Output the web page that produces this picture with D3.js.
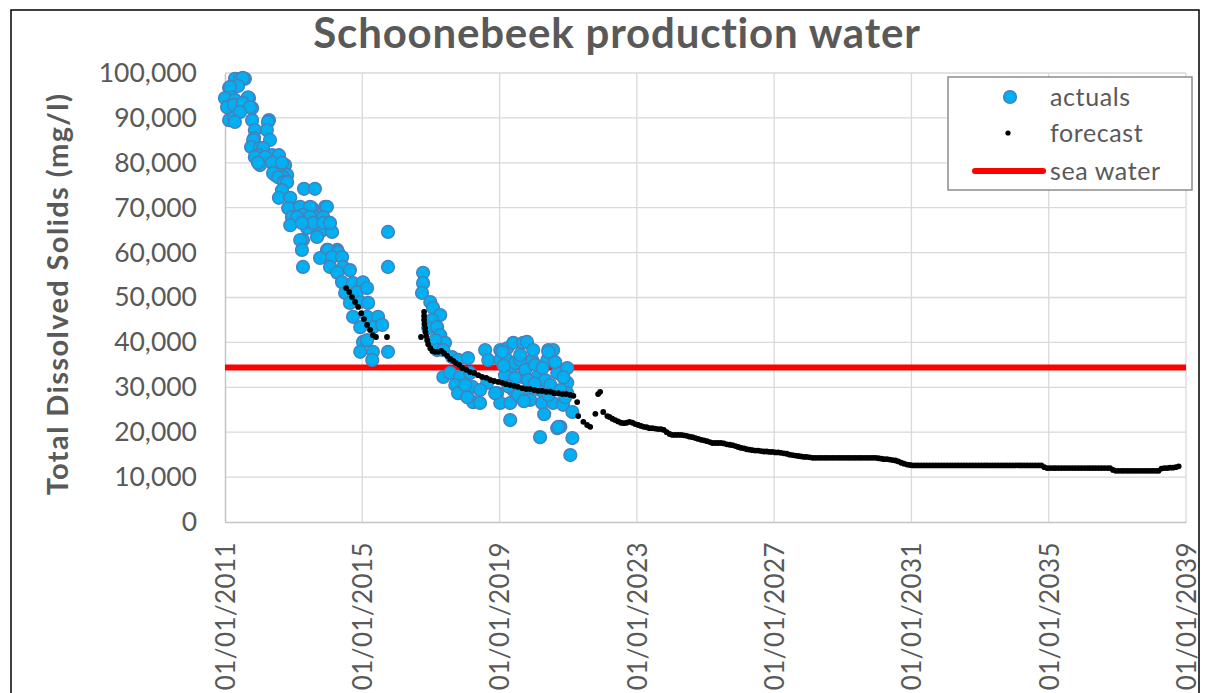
<!DOCTYPE html>
<html lang="en">
<head>
  <meta charset="UTF-8">
  <title>Schoonebeek production water</title>
  <script src="https://d3js.org/d3.v7.min.js"></script>
  <style>
    body { margin: 0; background: #fff; }
    svg { display: block; font-family: Lato, "Open Sans", sans-serif; }
  </style>
</head>
<body>
  <div id="chart"></div>
  <script>
    // measured actuals: [decimal year, TDS mg/l]
    const actuals = [
      [2011.29,98700],[2011.58,98700],[2011.44,98700],[2011.52,98900],[2011.12,96700],[2011.38,97100],[2011.15,96900],
      [2011.20,94600],[2011.00,94400],[2011.29,94000],[2011.70,94400],[2011.67,94600],[2011.06,92400],[2011.26,92900],
      [2011.55,92900],[2011.79,92200],[2011.52,93300],[2011.73,92400],[2011.12,89500],[2011.26,90000],[2011.44,91300],
      [2011.29,89100],[2011.79,89500],[2012.28,89500],[2012.25,89100],[2011.87,87300],[2012.22,87300],[2011.85,85500],
      [2011.82,85100],[2012.31,85100],[2011.76,83500],[2012.02,83300],[2012.11,83300],[2011.99,81700],[2012.37,81700],
      [2011.87,81300],[2012.17,81300],[2012.02,79500],[2012.57,81700],[2012.43,79500],[2012.75,79500],[2011.96,80000],
      [2012.37,80000],[2012.66,80000],[2012.46,77300],[2012.81,77300],[2012.40,77700],[2012.69,76800],[2012.55,76800],
      [2012.72,75700],[2012.81,75700],[2012.66,73900],[2012.57,72200],[2012.90,72200],[2013.30,74200],[2013.62,74200],
      [2012.87,69900],[2013.16,69900],[2013.54,69900],[2012.84,69900],[2013.19,70200],[2013.48,70200],[2013.92,70200],
      [2013.97,70200],[2012.95,67900],[2013.27,68400],[2013.68,67900],[2013.10,67900],[2013.48,67900],[2013.86,67900],
      [2012.90,66100],[2013.39,65500],[2013.77,64600],[2014.12,64600],[2013.57,66600],[2013.86,66600],[2014.06,66600],
      [2013.24,66600],[2013.27,62800],[2013.19,62800],[2013.68,63500],[2013.24,60600],[2013.97,60600],[2014.27,60600],
      [2014.00,60600],[2014.29,60100],[2013.27,56800],[2013.77,58800],[2014.12,59000],[2014.41,59000],[2014.06,56800],
      [2014.44,56800],[2014.27,55500],[2014.64,56100],[2014.41,53400],[2014.73,53200],[2015.02,53400],[2014.50,51000],
      [2014.85,51200],[2015.14,52100],[2014.64,48800],[2014.94,49000],[2015.17,48800],[2014.73,45700],[2015.14,45700],
      [2015.46,45700],[2014.94,43400],[2015.31,43400],[2015.58,43900],[2015.02,40100],[2015.14,40500],[2014.94,37900],
      [2015.31,37900],[2015.75,37900],[2015.29,36100],[2015.75,64600],[2015.75,56800],
      [2016.77,55500],[2016.77,53200],[2016.74,51000],[2016.98,49000],[2017.06,47700],[2017.27,46100],[2017.03,45000],
      [2016.92,43200],[2017.18,43400],[2017.27,41600],[2017.41,39900],[2017.12,40500],[2017.18,38300],[2017.36,38300],
      [2017.62,36700],[2017.79,36100],[2018.08,36500],[2017.36,32300],[2017.56,33200],[2017.85,32300],[2018.14,33200],
      [2017.71,30500],[2017.79,28700],[2018.20,30100],[2018.23,26700],[2018.43,26500],[2018.06,27800],[2018.58,38300],
      [2018.67,36100],[2018.64,31000],[2018.93,28700],[2018.43,29400],[2018.00,30500],
      [2019.02,38300],[2019.02,36100],[2019.22,38700],[2019.22,36100],[2019.31,33900],[2019.40,39900],[2019.45,35400],
      [2019.69,39900],[2019.80,40100],[2019.95,36100],[2019.98,38300],[2019.66,32300],[2019.40,29400],[2019.02,26500],
      [2019.31,26500],[2018.87,28700],[2020.10,32300],[2019.31,22700],[2019.80,28700],[2020.18,29400],[2020.33,31600],
      [2020.42,38300],[2020.56,38300],[2020.39,36100],[2020.68,33200],[2020.24,26500],[2020.56,26500],[2020.85,26100],
      [2020.18,18900],[2020.68,20900],[2020.77,21200],[2020.97,34300],[2020.97,31000],[2021.12,18700],[2021.06,14900],
      [2021.12,24500],[2020.97,28700],[2019.08,37900],[2020.42,37900],[2020.71,21200],[2019.60,36100],[2019.75,33900],
      [2020.04,35000],[2019.16,32700],[2019.45,32100],[2019.83,31600],[2020.48,30500],[2020.77,29400],[2019.54,28300],
      [2019.89,27200],[2020.42,28300],[2020.91,27800],[2019.60,37200],[2019.12,34800],[2020.25,34300],[2020.62,35600],
      [2020.02,30800],[2019.26,30200],[2020.86,32200],[2019.71,26900],[2020.30,24000]
    ];

    // forecast, irregular part: [decimal year, TDS mg/l]
    const forecastEarly = [
      [2014.53,52100],[2014.62,51200],[2014.70,50100],[2014.79,49000],[2014.88,47900],[2014.97,46500],[2015.05,45200],
      [2015.14,43900],[2015.23,42800],[2015.31,41600],[2015.40,41200],[2015.72,41200],
      [2016.71,41200],[2016.80,46800],[2016.80,45900],[2016.80,45000],[2016.81,44100],[2016.83,43200],[2016.84,42300],
      [2016.86,41400],[2016.89,40500],[2016.92,39600],[2016.98,38700],[2017.04,38100],[2017.12,37900],[2017.21,37900],
      [2017.30,38100],[2017.38,37600],[2017.47,37000],[2017.56,36300],[2017.65,35900],[2017.73,35400],[2017.82,35000],
      [2017.91,34300],[2018.03,33900],[2018.14,33400],[2018.26,33200],[2018.38,32700],[2018.49,32300],[2018.61,32100],
      [2018.73,31600],[2018.84,31400],[2018.96,31200],[2019.08,31000],[2019.19,30700],[2019.31,30500],[2019.43,30300],
      [2019.54,30100],[2019.66,29800],[2019.78,29600],[2019.89,29600],[2020.01,29400],[2020.13,29200],[2020.24,29200],
      [2020.36,29000],[2020.48,29000],[2020.59,28700],[2020.71,28700],[2020.83,28500],[2020.94,28500],[2021.06,28300],
      [2021.15,28100],[2021.26,26700],[2021.29,23600],[2021.44,22300],[2021.55,21600],[2021.64,21200],[2021.79,24100],
      [2021.87,28500],[2021.93,29000],[2022.02,24500],[2022.14,23600]
    ];

    // forecast, monthly from March 2022 to October 2038
    const forecastTailStart = [2022, 2];
    const forecastTail = [
      23400, 23000, 22700, 22400, 22100, 22000, 22100, 22300, 22100, 21800,
      21600, 21400, 21200, 21100, 20900, 20900, 20800, 20700, 20700, 20500, 20000, 19600,
      19400, 19400, 19400, 19400, 19300, 19200, 19000, 18900, 18700, 18500, 18300, 18200,
      18000, 17800, 17600, 17600, 17600, 17600, 17500, 17300, 17200, 17100, 16900, 16700,
      16500, 16400, 16200, 16100, 16000, 15900, 15900, 15800, 15700, 15700, 15600, 15600,
      15500, 15500, 15400, 15300, 15200, 15000, 14900, 14800, 14700, 14600, 14500, 14500,
      14400, 14300, 14300, 14300, 14300, 14300, 14300, 14300, 14300, 14300, 14300, 14300,
      14300, 14300, 14300, 14300, 14300, 14300, 14300, 14300, 14300, 14300, 14300, 14300,
      14200, 14100, 14000, 14000, 13900, 13800, 13700, 13500, 13200, 13000, 12800, 12700,
      12600, 12600, 12600, 12600, 12600, 12600, 12600, 12600, 12600, 12600, 12600, 12600,
      12600, 12600, 12600, 12600, 12600, 12600, 12600, 12600, 12600, 12600, 12600, 12600,
      12600, 12600, 12600, 12600, 12600, 12600, 12600, 12600, 12600, 12600, 12600, 12600,
      12600, 12600, 12600, 12600, 12600, 12600, 12600, 12600, 12600, 12600, 12200, 12000,
      12000, 12000, 12000, 12000, 12000, 12000, 12000, 12000, 12000, 12000, 12000, 12000,
      12000, 12000, 12000, 12000, 12000, 12000, 12000, 12000, 12000, 12000, 11600, 11400,
      11400, 11400, 11400, 11400, 11400, 11400, 11400, 11400, 11400, 11400, 11400, 11400,
      11400, 11400, 11400, 11900, 12000, 12000, 12100, 12100, 12200, 12400
    ];

    const seaWater = 34400;
    const xTickYears = [2011, 2015, 2019, 2023, 2027, 2031, 2035, 2039];
    const yTickValues = [0, 10000, 20000, 30000, 40000, 50000, 60000, 70000, 80000, 90000, 100000];
    const legendItems = ["actuals", "forecast", "sea water"];

    const width = 1208, height = 693;
    const plot = { left: 225, right: 1186, top: 73, bottom: 522 };
    const textColor = "#595959";

    function yearToDate(v) {
      const yr = Math.floor(v);
      const a = new Date(yr, 0, 1), b = new Date(yr + 1, 0, 1);
      return new Date(+a + (v - yr) * (b - a));
    }

    const forecast = forecastEarly.map(d => [yearToDate(d[0]), d[1]])
      .concat(forecastTail.map((v, i) =>
        [new Date(forecastTailStart[0], forecastTailStart[1] + i, 15), v]));
    const actualPts = actuals.map(d => [yearToDate(d[0]), d[1]]);

    const x = d3.scaleTime()
        .domain([new Date(2011, 0, 1), new Date(2039, 0, 1)])
        .range([plot.left, plot.right]);
    const y = d3.scaleLinear()
        .domain([0, 100000])
        .range([plot.bottom, plot.top]);
    const xTicks = xTickYears.map(yr => new Date(yr, 0, 1));

    const svg = d3.select("#chart").append("svg")
        .attr("width", width)
        .attr("height", height);

    svg.append("rect").attr("width", width).attr("height", height).attr("fill", "#fff");

    // chart frame (runs off the bottom of the picture)
    svg.append("rect")
        .attr("x", 11).attr("y", 10)
        .attr("width", 1188).attr("height", 720)
        .attr("fill", "none").attr("stroke", "#000").attr("stroke-width", 1.5);

    // gridlines
    svg.append("g").selectAll("line").data(yTickValues.slice(1)).join("line")
        .attr("x1", plot.left).attr("x2", plot.right)
        .attr("y1", d => y(d)).attr("y2", d => y(d))
        .attr("stroke", "#d9d9d9").attr("stroke-width", 1.3);
    svg.append("g").selectAll("line").data(xTicks.slice(1)).join("line")
        .attr("x1", d => x(d)).attr("x2", d => x(d))
        .attr("y1", plot.top).attr("y2", plot.bottom)
        .attr("stroke", "#d9d9d9").attr("stroke-width", 1.3);

    // axes
    const yAxis = svg.append("g")
        .attr("transform", `translate(${plot.left},0)`)
        .call(d3.axisLeft(y).tickValues(yTickValues).tickSize(0).tickPadding(28)
          .tickFormat(d3.format(",")));
    yAxis.select(".domain").attr("stroke", "#c4c4c4").attr("stroke-width", 1.5);
    yAxis.selectAll("text").attr("fill", textColor).style("font-size", "26.5px")
        .style("font-family", "Lato, sans-serif");

    const xAxis = svg.append("g")
        .attr("transform", `translate(0,${plot.bottom})`)
        .call(d3.axisBottom(x).tickValues(xTicks).tickSize(0)
          .tickFormat(d3.timeFormat("%d/%m/%Y")));
    xAxis.select(".domain").attr("stroke", "#c4c4c4").attr("stroke-width", 1.5);
    xAxis.selectAll("text")
        .attr("fill", textColor).style("font-size", "26px")
        .style("font-family", "Lato, sans-serif")
        .style("letter-spacing", "0.4px")
        .attr("text-anchor", "end")
        .attr("transform", "rotate(-90)")
        .attr("x", -20).attr("y", 0).attr("dy", "0.36em");

    // sea water reference
    svg.append("line")
        .attr("x1", plot.left).attr("x2", plot.right)
        .attr("y1", y(seaWater)).attr("y2", y(seaWater))
        .attr("stroke", "#ff0000").attr("stroke-width", 6);

    // actuals
    svg.append("g").selectAll("circle").data(actualPts).join("circle")
        .attr("cx", d => x(d[0])).attr("cy", d => y(d[1]))
        .attr("r", 6.4)
        .attr("fill", "#00b0f0").attr("stroke", "#4a7ebb").attr("stroke-width", 1.4);

    // forecast
    svg.append("g").selectAll("circle").data(forecast).join("circle")
        .attr("cx", d => x(d[0])).attr("cy", d => y(d[1]))
        .attr("r", 2.9).attr("fill", "#000");

    // title
    svg.append("text")
        .attr("x", 617).attr("y", 48)
        .attr("text-anchor", "middle")
        .attr("fill", textColor)
        .style("font-size", "42px").style("font-weight", "bold")
        .style("letter-spacing", "0.8px")
        .text("Schoonebeek production water");

    svg.append("text")
        .attr("transform", "translate(68,294) rotate(-90)")
        .attr("text-anchor", "middle")
        .attr("fill", textColor)
        .style("font-size", "29px").style("font-weight", "bold")
        .style("letter-spacing", "1.4px")
        .text("Total Dissolved Solids (mg/l)");

    // legend
    const legend = svg.append("g");
    legend.append("rect")
        .attr("x", 948).attr("y", 77).attr("width", 244).attr("height", 113)
        .attr("fill", "#fff").attr("stroke", "#8c8c8c").attr("stroke-width", 1.5);
    const rowY = [97, 133, 171];
    legend.selectAll("text").data(legendItems).join("text")
        .attr("x", 1050).attr("y", (d, i) => rowY[i]).attr("dy", "0.35em")
        .attr("fill", textColor).style("font-size", "25px")
        .style("letter-spacing", "0.6px")
        .text(d => d);
    legend.append("circle").attr("cx", 1010).attr("cy", rowY[0]).attr("r", 6.4)
        .attr("fill", "#00b0f0").attr("stroke", "#4a7ebb").attr("stroke-width", 1.4);
    legend.append("circle").attr("cx", 1008).attr("cy", rowY[1]).attr("r", 2.6).attr("fill", "#000");
    legend.append("line").attr("x1", 975).attr("x2", 1043)
        .attr("y1", rowY[2]).attr("y2", rowY[2])
        .attr("stroke", "#ff0000").attr("stroke-width", 6).attr("stroke-linecap", "round");
  </script>
</body>
</html>
